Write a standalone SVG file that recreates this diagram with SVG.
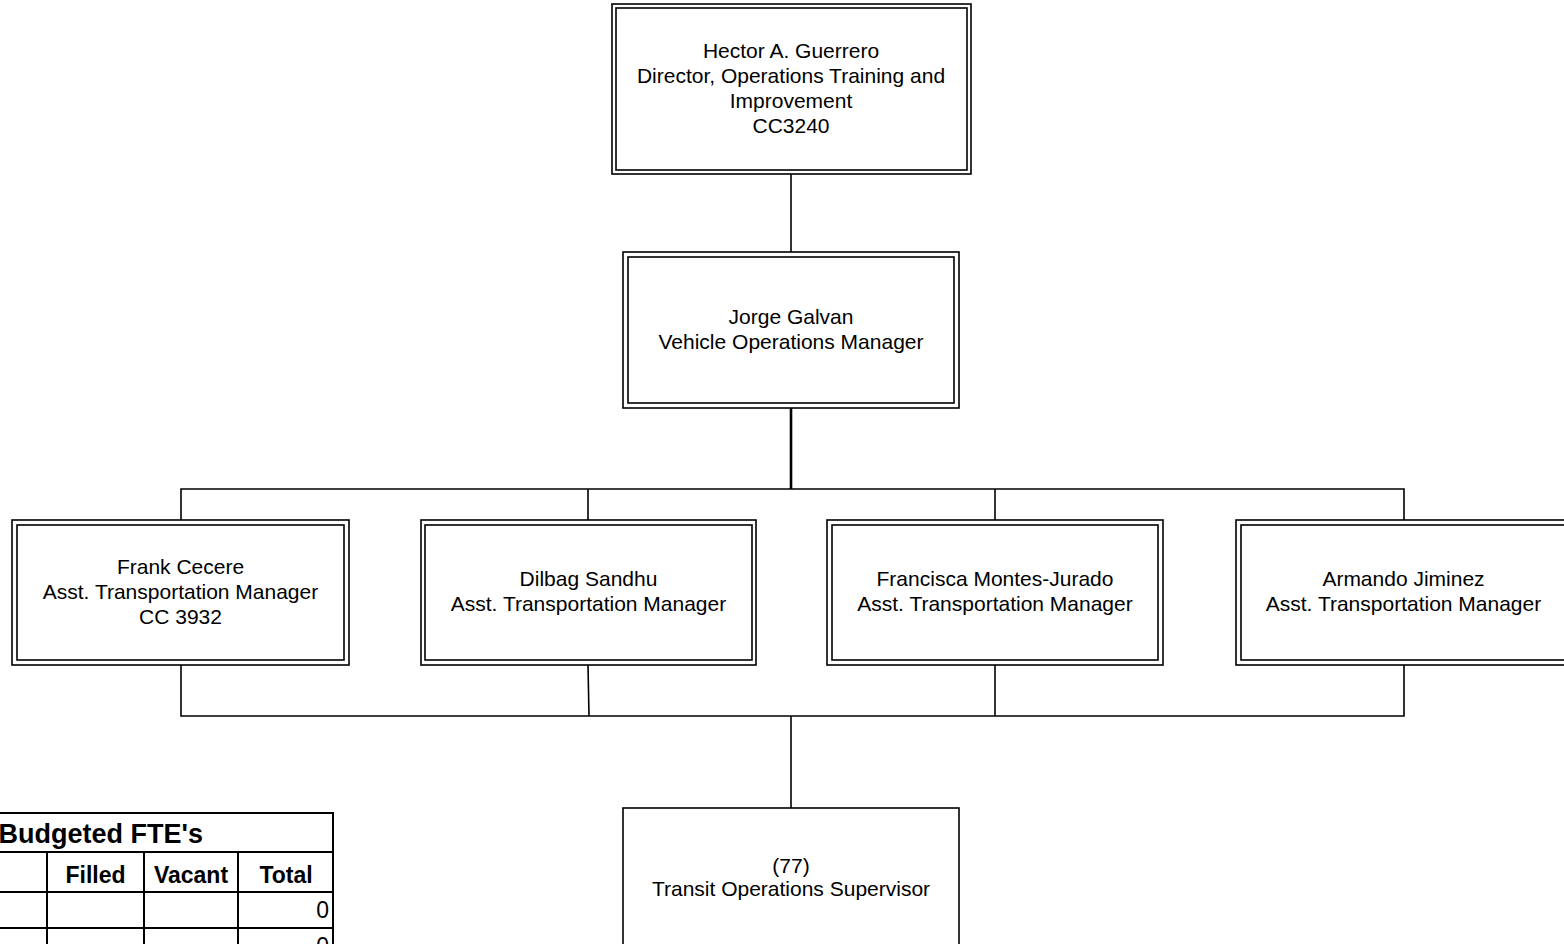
<svg xmlns="http://www.w3.org/2000/svg" width="1564" height="944" viewBox="0 0 1564 944">
<style>
.o{fill:#fff;stroke:#000;stroke-width:1.6}
.i{fill:none;stroke:#000;stroke-width:1.6}
.t{font-family:"Liberation Sans",Arial,sans-serif;font-size:21px;fill:#000;text-anchor:middle}
.n{font-family:"Liberation Sans",Arial,sans-serif;font-size:23px;fill:#000;text-anchor:end}
.c{stroke:#000;stroke-width:1.6;fill:none}
.tb{stroke:#000;stroke-width:2;fill:none}
.h{font-family:"Liberation Sans",Arial,sans-serif;font-weight:bold;fill:#000}
</style>
<rect width="1564" height="944" fill="#fff"/>
<g id="connectors">
<line class="c" x1="791" y1="174" x2="791" y2="252"/>
<line class="c" x1="791" y1="408" x2="791" y2="489" style="stroke-width:2.6"/>
<polyline class="c" points="181,520 181,489 1404,489 1404,520"/>
<line class="c" x1="588" y1="489" x2="588" y2="520"/>
<line class="c" x1="995" y1="489" x2="995" y2="520"/>
<polyline class="c" points="181,665 181,716 1404,716 1404,665"/>
<line class="c" x1="588" y1="665" x2="589" y2="716"/>
<line class="c" x1="995" y1="665" x2="995" y2="716"/>
<line class="c" x1="791" y1="716" x2="791" y2="808"/>
</g>
<g id="hector">
<rect class="o" x="612" y="4" width="359" height="170"/>
<rect class="i" x="616" y="8" width="351" height="162"/>
<text class="t" x="791" y="58">Hector A. Guerrero</text>
<text class="t" x="791" y="83">Director, Operations Training and</text>
<text class="t" x="791" y="108">Improvement</text>
<text class="t" x="791" y="133">CC3240</text>
</g>
<g id="jorge">
<rect class="o" x="623" y="252" width="336" height="156"/>
<rect class="i" x="628" y="257" width="326" height="146"/>
<text class="t" x="791" y="324">Jorge Galvan</text>
<text class="t" x="791" y="349">Vehicle Operations Manager</text>
</g>
<g id="frank">
<rect class="o" x="12" y="520" width="337" height="145"/>
<rect class="i" x="17" y="525" width="327" height="135"/>
<text class="t" x="180.5" y="574">Frank Cecere</text>
<text class="t" x="180.5" y="599">Asst. Transportation Manager</text>
<text class="t" x="180.5" y="624">CC 3932</text>
</g>
<g id="dilbag">
<rect class="o" x="421" y="520" width="335" height="145"/>
<rect class="i" x="425" y="525" width="327" height="135"/>
<text class="t" x="588.5" y="586">Dilbag Sandhu</text>
<text class="t" x="588.5" y="611">Asst. Transportation Manager</text>
</g>
<g id="francisca">
<rect class="o" x="827" y="520" width="336" height="145"/>
<rect class="i" x="832" y="525" width="326" height="135"/>
<text class="t" x="995" y="586">Francisca Montes-Jurado</text>
<text class="t" x="995" y="611">Asst. Transportation Manager</text>
</g>
<g id="armando">
<rect class="o" x="1236" y="520" width="336" height="145"/>
<rect class="i" x="1241" y="525" width="326" height="135"/>
<text class="t" x="1403.5" y="586">Armando Jiminez</text>
<text class="t" x="1403.5" y="611">Asst. Transportation Manager</text>
</g>
<g id="supervisor">
<rect class="o" x="623" y="808" width="336" height="160"/>
<text class="t" x="791" y="873">(77)</text>
<text class="t" x="791" y="896">Transit Operations Supervisor</text>
</g>
<g id="fte-table">
<line class="tb" x1="-5" y1="813" x2="334" y2="813"/>
<line class="tb" x1="-5" y1="852" x2="334" y2="852"/>
<line class="tb" x1="-5" y1="892" x2="334" y2="892"/>
<line class="tb" x1="-5" y1="928" x2="334" y2="928"/>
<line class="tb" x1="333" y1="812" x2="333" y2="950"/>
<line class="tb" x1="47" y1="852" x2="47" y2="950"/>
<line class="tb" x1="144" y1="852" x2="144" y2="950"/>
<line class="tb" x1="238" y1="852" x2="238" y2="950"/>
<text class="h" x="203" y="843" font-size="27" text-anchor="end">Budgeted FTE's</text>
<text class="h" x="95.5" y="883" font-size="23" text-anchor="middle">Filled</text>
<text class="h" x="191" y="883" font-size="23" text-anchor="middle">Vacant</text>
<text class="h" x="286" y="883" font-size="23" text-anchor="middle">Total</text>
<text class="n" x="329" y="918">0</text>
<text class="n" x="329" y="954">0</text>
</g>
</svg>
